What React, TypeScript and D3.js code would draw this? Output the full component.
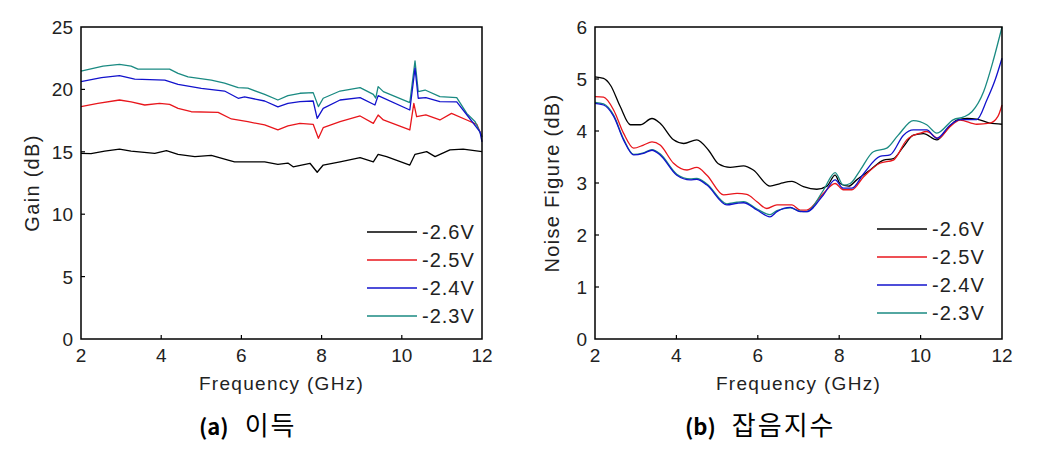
import React from "react";
import * as d3 from "d3";

type Pt = [number, number];

const seriesLabels = ["-2.6V", "-2.5V", "-2.4V", "-2.3V"];
const seriesColors = ["#000000", "#e8161c", "#1212cc", "#1a8a82"];
const xTicks = [2, 4, 6, 8, 10, 12];
const gainTicks = [0, 5, 10, 15, 20, 25];
const nfTicks = [0, 1, 2, 3, 4, 5, 6];

const gain26: Pt[] = [[2.0,14.88],[2.25,14.85],[2.59,15.06],[2.96,15.22],[3.25,15.06],[3.84,14.88],[4.13,15.09],[4.42,14.8],[4.84,14.61],[5.25,14.72],[5.67,14.34],[5.83,14.2],[6.58,14.2],[6.91,14.0],[7.16,14.1],[7.29,13.8],[7.71,14.08],[7.89,13.36],[8.04,13.94],[8.46,14.2],[8.96,14.53],[9.29,14.2],[9.41,14.8],[9.62,14.61],[10.2,13.94],[10.33,14.8],[10.62,15.01],[10.83,14.61],[11.2,15.15],[11.53,15.22],[12,15.01]];
const gain25: Pt[] = [[2.0,18.62],[2.42,18.88],[2.96,19.15],[3.25,19.0],[3.59,18.75],[3.96,18.88],[4.21,18.8],[4.42,18.48],[4.75,18.21],[5.42,18.16],[5.75,17.63],[6.16,17.41],[6.58,17.15],[6.91,16.75],[7.16,17.07],[7.46,17.28],[7.79,17.2],[7.92,16.08],[8.04,16.93],[8.46,17.41],[8.96,17.87],[9.29,17.28],[9.41,17.95],[9.54,17.55],[10.2,16.75],[10.3,18.88],[10.37,17.81],[10.6,17.95],[10.95,17.55],[11.24,18.08],[11.62,17.55],[11.87,17.2],[12,16.2]];
const gain24: Pt[] = [[2.0,20.62],[2.51,20.94],[2.96,21.1],[3.34,20.83],[4.09,20.75],[4.42,20.4],[5.0,20.09],[5.58,19.87],[5.92,19.29],[6.08,19.4],[6.58,19.07],[6.91,18.6],[7.16,18.88],[7.46,19.02],[7.79,19.07],[7.89,17.68],[8.04,18.48],[8.46,19.15],[8.96,19.34],[9.33,18.75],[9.41,19.5],[10.2,18.35],[10.33,21.7],[10.41,19.29],[10.6,19.34],[10.95,19.02],[11.37,19.0],[11.66,17.81],[11.95,16.6],[12,15.8]];
const gain23: Pt[] = [[2.0,21.47],[2.55,21.87],[2.96,22.0],[3.25,21.87],[3.42,21.63],[4.21,21.63],[4.42,21.29],[4.67,21.0],[5.25,20.75],[5.58,20.5],[5.92,20.14],[6.16,20.1],[6.58,19.6],[6.91,19.15],[7.16,19.5],[7.46,19.69],[7.79,19.74],[7.92,18.62],[8.04,19.29],[8.46,19.87],[8.96,20.14],[9.29,19.6],[9.35,19.3],[9.41,20.22],[9.54,19.82],[10.2,18.94],[10.33,22.28],[10.41,19.82],[10.58,19.95],[10.95,19.42],[11.37,19.34],[11.62,18.08],[11.83,17.41],[12,16.2]];

const nf26: Pt[] = [[2.0,5.04],[2.21,5.01],[2.38,4.88],[2.62,4.47],[2.87,4.12],[3.11,4.12],[3.4,4.24],[3.6,4.15],[3.93,3.83],[4.18,3.76],[4.5,3.83],[4.79,3.63],[5.03,3.37],[5.32,3.3],[5.65,3.33],[5.89,3.25],[6.3,2.94],[6.55,2.99],[6.84,3.03],[7.12,2.93],[7.45,2.88],[7.7,2.94],[7.9,3.15],[8.02,2.99],[8.23,2.94],[8.43,3.06],[8.76,3.25],[9.09,3.44],[9.33,3.47],[9.58,3.7],[9.82,3.92],[10.07,3.95],[10.4,3.83],[10.64,4.02],[10.89,4.21],[11.14,4.24],[11.38,4.23],[11.7,4.15],[12,4.13]];
const nf25: Pt[] = [[2.0,4.66],[2.21,4.65],[2.46,4.4],[2.7,3.96],[2.95,3.67],[3.19,3.73],[3.4,3.79],[3.6,3.73],[3.93,3.38],[4.26,3.25],[4.5,3.3],[4.75,3.15],[5.16,2.77],[5.49,2.8],[5.73,2.78],[5.98,2.64],[6.22,2.51],[6.47,2.58],[6.84,2.58],[7.04,2.48],[7.2,2.48],[7.61,2.8],[7.9,2.99],[8.1,2.87],[8.31,2.87],[8.6,3.12],[9.0,3.38],[9.33,3.44],[9.66,3.83],[9.99,3.96],[10.15,3.99],[10.44,3.86],[10.72,4.08],[10.97,4.21],[11.38,4.13],[11.7,4.15],[11.9,4.28],[12,4.5]];
const nf24: Pt[] = [[2.0,4.53],[2.21,4.5],[2.46,4.28],[2.7,3.83],[2.95,3.54],[3.19,3.57],[3.4,3.63],[3.6,3.54],[4.01,3.15],[4.34,3.06],[4.5,3.07],[4.75,2.96],[5.24,2.58],[5.49,2.61],[5.65,2.62],[5.98,2.48],[6.3,2.35],[6.47,2.45],[6.8,2.53],[7.04,2.45],[7.2,2.45],[7.61,2.77],[7.9,3.06],[8.1,2.9],[8.31,2.9],[8.6,3.18],[9.0,3.51],[9.25,3.54],[9.58,3.92],[9.82,4.02],[10.15,4.02],[10.4,3.86],[10.72,4.11],[10.97,4.22],[11.38,4.22],[11.63,4.6],[11.83,4.98],[12,5.4]];
const nf23: Pt[] = [[2.0,4.55],[2.21,4.52],[2.46,4.3],[2.7,3.85],[2.95,3.55],[3.19,3.58],[3.4,3.64],[3.6,3.56],[4.01,3.17],[4.34,3.08],[4.5,3.09],[4.75,2.98],[5.24,2.6],[5.49,2.63],[5.65,2.64],[5.98,2.5],[6.3,2.39],[6.47,2.47],[6.8,2.52],[7.04,2.46],[7.2,2.45],[7.61,2.86],[7.9,3.2],[8.1,2.96],[8.27,2.99],[8.51,3.24],[8.84,3.6],[9.17,3.67],[9.45,3.92],[9.82,4.2],[10.15,4.12],[10.4,3.96],[10.81,4.22],[11.06,4.27],[11.26,4.37],[11.55,4.76],[11.79,5.37],[12,6.0]];

const gainSeries = [gain26, gain25, gain24, gain23];
const nfSeries = [nf26, nf25, nf24, nf23];
const drawOrder = [0, 1, 3, 2];

const FONT = "'Liberation Sans', Arial, sans-serif";
const KFONT = "'Noto Sans CJK KR', sans-serif";

interface PanelProps {
  left: number;
  right: number;
  top: number;
  bottom: number;
  yMax: number;
  yTicks: number[];
  series: Pt[][];
  yLabel: string;
  yLabelX: number;
  legendX: number;
  legendY: number;
  captionTag: string;
  captionText: string;
  captionX: number;
  smooth: boolean;
}

function Panel(p: PanelProps) {
  const x = d3.scaleLinear().domain([2, 12]).range([p.left, p.right]);
  const y = d3.scaleLinear().domain([0, p.yMax]).range([p.bottom, p.top]);
  const line = d3
    .line<Pt>()
    .x((d) => x(d[0]))
    .y((d) => y(d[1]))
    .curve(p.smooth ? d3.curveMonotoneX : d3.curveLinear);
  const cx = (p.left + p.right) / 2;
  const cy = (p.top + p.bottom) / 2;
  return (
    <g>
      {drawOrder.map((i) => (
        <path key={i} d={line(p.series[i]) || ""} fill="none" stroke={seriesColors[i]} strokeWidth={1.3} strokeLinejoin="round" />
      ))}
      <rect x={p.left} y={p.top} width={p.right - p.left} height={p.bottom - p.top} fill="none" stroke="#000" strokeWidth={1.5} />
      {xTicks.map((t) => (
        <g key={"x" + t}>
          {t > 2 && t < 12 && <line x1={x(t)} x2={x(t)} y1={p.bottom} y2={p.bottom - 4} stroke="#000" strokeWidth={1.2} />}
          <text x={x(t)} y={p.bottom + 23} textAnchor="middle" fontFamily={FONT} fontSize={19} fill="#222">{t}</text>
        </g>
      ))}
      {p.yTicks.map((t) => (
        <g key={"y" + t}>
          {t > 0 && t < p.yMax && <line x1={p.left} x2={p.left + 4} y1={y(t)} y2={y(t)} stroke="#000" strokeWidth={1.2} />}
          <text x={p.left - 8} y={y(t) + 7} textAnchor="end" fontFamily={FONT} fontSize={19} fill="#222">{t}</text>
        </g>
      ))}
      <text x={cx} y={p.bottom + 51} textAnchor="middle" fontFamily={FONT} fontSize={19} letterSpacing={1.3} fill="#222">Frequency (GHz)</text>
      <text transform={`translate(${p.yLabelX},${cy}) rotate(-90)`} textAnchor="middle" fontFamily={FONT} fontSize={20} letterSpacing={1.3} fill="#222">{p.yLabel}</text>
      {seriesLabels.map((lab, i) => (
        <g key={lab}>
          <line x1={p.legendX} x2={p.legendX + 50} y1={p.legendY + i * 28} y2={p.legendY + i * 28} stroke={seriesColors[i]} strokeWidth={1.3} />
          <text x={p.legendX + 55} y={p.legendY + i * 28 + 7} fontFamily={FONT} fontSize={20} letterSpacing={1} fill="#222">{lab}</text>
        </g>
      ))}
      <text x={p.captionX} y={435} fontFamily={KFONT} fontSize={22} fill="#000">
        <tspan fontWeight={700}>{p.captionTag}</tspan>
        <tspan dx={16} fontSize={26} letterSpacing={2}>{p.captionText}</tspan>
      </text>
    </g>
  );
}

export default function App() {
  return (
    <div style={{ position: "absolute", left: 0, top: 0 }}>
      <svg width={1042} height={454} style={{ display: "block", background: "#fff" }}>
        <Panel left={81} right={482} top={27} bottom={339} yMax={25} yTicks={gainTicks} series={gainSeries}
          yLabel="Gain (dB)" yLabelX={39} legendX={367} legendY={232} captionTag="(a)" captionText="이득" captionX={199} smooth={false} />
        <Panel left={595} right={1002} top={27} bottom={339} yMax={6} yTicks={nfTicks} series={nfSeries}
          yLabel="Noise Figure (dB)" yLabelX={559} legendX={877} legendY={229} captionTag="(b)" captionText="잡음지수" captionX={685} smooth={true} />
      </svg>
    </div>
  );
}
